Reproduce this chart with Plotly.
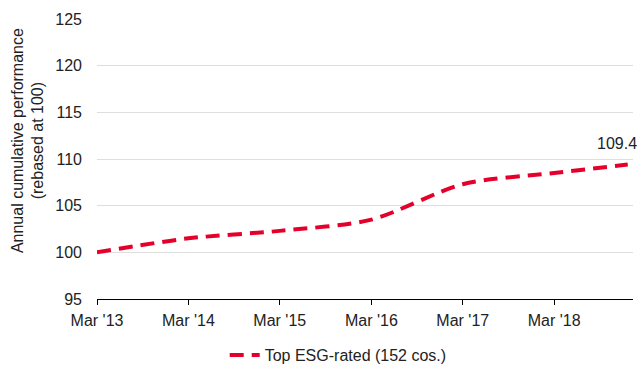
import plotly.graph_objects as go

# Annual cumulative performance, rebased at 100
dates = ["2013-03-01", "2014-03-01", "2015-03-01", "2016-03-01",
         "2017-03-01", "2018-03-01", "2018-12-20"]
values = [100, 101.5, 102.3, 103.5, 107.3, 108.5, 109.4]
series_name = "Top ESG-rated (152 cos.)"

tick_vals = ["2013-03-01", "2014-03-01", "2015-03-01", "2016-03-01",
             "2017-03-01", "2018-03-01"]
tick_text = ["Mar '13", "Mar '14", "Mar '15", "Mar '16", "Mar '17", "Mar '18"]

red = "#e4002b"
font_family = "Liberation Sans, Arial, sans-serif"
fs = 16

fig = go.Figure()
fig.add_trace(go.Scatter(
    x=dates, y=values, mode="lines", name=series_name,
    line=dict(color=red, width=4, dash="14px,8px", shape="spline", smoothing=0.8),
))

# End-of-period value label
fig.add_annotation(
    x=dates[-1], y=values[-1], text=f"{values[-1]:.1f}",
    showarrow=False, xanchor="right", yanchor="bottom", xshift=11, yshift=11,
    font=dict(size=fs, color="#222222", family=font_family),
)

# Y-axis title, placed as a rotated annotation
fig.add_annotation(
    xref="paper", yref="paper", x=-0.13, y=0.565,
    text="Annual cumulative performance<br>(rebased at 100)",
    textangle=-90, showarrow=False, xanchor="center", yanchor="middle",
    font=dict(size=fs, color="#222222", family=font_family),
)

fig.update_layout(
    width=643, height=369,
    margin=dict(l=97, r=10, t=19, b=70, autoexpand=False),
    paper_bgcolor="white", plot_bgcolor="white",
    font=dict(family=font_family, size=fs, color="#222222"),
    showlegend=True,
    legend=dict(orientation="h", x=0.45, xanchor="center", y=-0.2, yanchor="middle",
                font=dict(size=fs)),
    xaxis=dict(
        type="date", range=["2013-03-01", "2019-01-10"],
        tickmode="array", tickvals=tick_vals, ticktext=tick_text,
        showgrid=False, showline=True, linecolor="black", linewidth=1,
        ticks="outside", ticklen=5, tickcolor="black", zeroline=False,
        ticklabelstandoff=2,
    ),
    yaxis=dict(
        range=[95, 125], tickmode="array", tickvals=[95, 100, 105, 110, 115, 120, 125],
        showgrid=True, gridcolor="#dedede", gridwidth=1, zeroline=False,
        showline=False, ticks="", ticklabelstandoff=14,
    ),
)

fig.write_html("out.html")
